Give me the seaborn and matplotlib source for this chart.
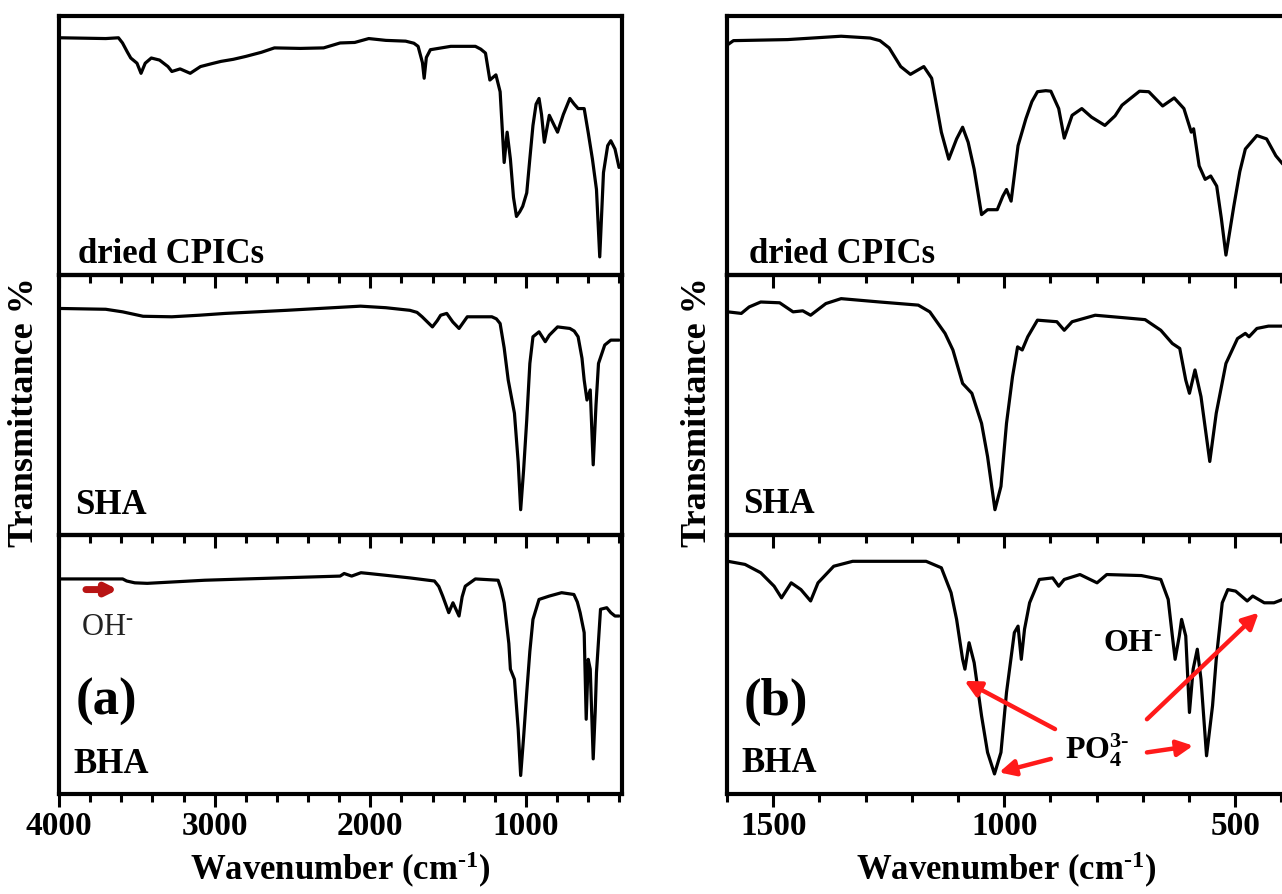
import numpy as np
import pandas as pd
import seaborn as sns
import matplotlib.pyplot as plt
from matplotlib.ticker import MultipleLocator

# ---- spectra (wavenumber, transmittance in panel units 0-100) ----
# (a) full range 4000-400
wn_a_cpic = [3992, 3700, 3618, 3592, 3560, 3539, 3499, 3473, 3446, 3407, 3354, 3300, 3275,
             3222, 3157, 3091, 3020, 2959, 2880, 2801, 2700, 2616, 2450, 2300, 2194, 2100,
             2010, 1900, 1773, 1720, 1693, 1665, 1654, 1640, 1614, 1483, 1325, 1290, 1260,
             1232, 1193, 1166, 1140, 1121, 1100, 1080, 1061, 1040, 1021, 995, 975, 955, 935,
             916, 900, 882, 850, 820, 797, 760, 718, 690, 665, 626, 600, 573, 547, 526, 502,
             475, 455, 428, 402]
t_a_cpic = [91.6, 91.3, 91.6, 89.6, 86.0, 83.8, 81.8, 77.9, 81.8, 83.8, 83.0, 80.5, 78.6,
            79.6, 77.9, 80.5, 81.6, 82.5, 83.3, 84.4, 86.0, 87.7, 87.5, 87.7, 89.6, 89.8,
            91.3, 90.6, 90.3, 89.5, 88.3, 82.0, 76.0, 84.0, 87.0, 88.3, 88.3, 87.2, 85.7,
            75.3, 77.3, 70.8, 43.5, 55.2, 44.8, 30.0, 22.7, 24.5, 26.6, 31.8, 45.0, 57.8, 66.0,
            68.2, 62.0, 51.3, 61.7, 58.0, 55.2, 62.0, 68.2, 66.0, 64.3, 64.3, 55.0, 44.8, 33.1,
            7.1, 39.6, 50.0, 51.9, 48.7, 41.6]

wn_a_sha = [3987, 3700, 3591, 3460, 3275, 3100, 2932, 2700, 2537, 2300, 2063, 1900, 1746,
            1700, 1667, 1601, 1570, 1548, 1509, 1470, 1430, 1377, 1219, 1190, 1166, 1140,
            1114, 1074, 1050, 1034, 1015, 995, 975, 955, 916, 876, 850, 797, 718, 690, 665,
            640, 626, 608, 587, 568, 550, 534, 494, 455, 402]
t_a_sha = [87.2, 86.9, 85.9, 84.2, 84.0, 84.6, 85.3, 86.0, 86.5, 87.3, 88.1, 87.5, 86.5,
           85.7, 84.0, 80.1, 82.5, 84.6, 85.3, 82.0, 79.5, 84.0, 84.0, 83.2, 81.4, 72.0,
           59.6, 46.8, 28.0, 9.6, 25.0, 44.2, 66.0, 76.3, 78.2, 74.4, 76.9, 80.1, 79.5, 78.5,
           76.3, 68.0, 59.6, 51.9, 55.8, 26.9, 50.0, 66.0, 73.1, 75.0, 75.0]

wn_a_bha = [3992, 3591, 3565, 3513, 3433, 3064, 2801, 2194, 2168, 2120, 2060, 2010, 1900,
            1746, 1588, 1560, 1535, 1496, 1469, 1430, 1410, 1390, 1325, 1179, 1160, 1140,
            1110, 1100, 1074, 1050, 1034, 1015, 995, 975, 955, 916, 850, 771, 692, 670, 652,
            626, 613, 600, 587, 568, 555, 547, 521, 481, 455, 428, 402]
t_a_bha = [82.9, 82.9, 82.1, 81.4, 81.2, 82.4, 82.9, 84.0, 85.0, 84.0, 85.3, 85.0, 84.3,
           83.3, 82.1, 80.0, 76.3, 69.9, 73.7, 68.6, 76.0, 80.1, 82.9, 82.4, 79.0, 73.7,
           58.0, 48.1, 44.2, 25.0, 7.1, 22.0, 39.1, 55.0, 67.3, 75.0, 76.3, 77.6, 76.9, 74.0,
           69.9, 62.2, 28.8, 51.9, 48.1, 13.5, 32.0, 46.8, 71.2, 71.8, 69.9, 68.6, 68.6]

# (b) zoom 1600-400
wn_b_cpic = [1598, 1586, 1469, 1353, 1290, 1269, 1249, 1224, 1203, 1174, 1157, 1136, 1120,
             1103, 1090, 1078, 1065, 1049, 1036, 1015, 1003, 995, 985, 970, 953, 940, 928,
             910, 899, 882, 870, 853, 832, 811, 782, 760, 745, 707, 687, 657, 632, 611, 595,
             590, 578, 565, 553, 540, 530, 520, 503, 490, 478, 453, 432, 412, 397]
t_b_cpic = [89.0, 90.5, 90.9, 92.2, 91.5, 90.5, 87.7, 80.5, 77.5, 80.5, 76.0, 55.2, 44.8,
            52.6, 57.1, 51.3, 40.9, 23.4, 25.3, 25.3, 30.5, 33.1, 28.6, 50.0, 60.4, 67.0, 70.8,
            71.2, 71.0, 64.3, 52.9, 61.7, 64.3, 61.0, 57.8, 61.5, 65.6, 71.0, 70.8, 65.3, 68.4,
            64.3, 55.2, 56.5, 42.2, 37.0, 38.3, 34.4, 22.0, 7.8, 26.6, 40.0, 48.7, 53.9, 52.6,
            46.1, 42.9]

wn_b_sha = [1598, 1569, 1552, 1527, 1486, 1457, 1436, 1419, 1386, 1353, 1269, 1186, 1161,
            1128, 1111, 1090, 1070, 1049, 1036, 1020, 1007, 995, 982, 971, 961, 949, 928,
            886, 870, 853, 803, 745, 695, 661, 636, 620, 607, 599, 587, 574, 555, 541, 520,
            495, 478, 470, 453, 428, 397]
t_b_sha = [85.9, 85.3, 87.8, 89.7, 89.4, 85.9, 86.3, 84.6, 89.1, 91.0, 89.7, 88.5, 85.9,
           77.6, 71.2, 58.3, 54.5, 42.9, 30.1, 9.6, 18.6, 42.9, 60.9, 72.4, 71.2, 76.3, 82.7,
           82.1, 78.8, 82.1, 84.6, 83.7, 82.9, 78.8, 73.7, 71.8, 59.6, 54.5, 63.5, 53.2, 28.2,
           46.8, 66.0, 75.6, 77.6, 76.3, 79.5, 80.4, 80.4]

wn_b_bha = [1598, 1561, 1527, 1498, 1482, 1461, 1440, 1419, 1403, 1369, 1328, 1169, 1136,
            1115, 1103, 1090, 1085, 1076, 1065, 1049, 1036, 1021, 1007, 995, 978, 970, 963,
            956, 945, 924, 895, 882, 870, 836, 799, 778, 703, 661, 645, 636, 630, 621, 616,
            607, 599, 591, 582, 574, 562, 549, 541, 528, 516, 499, 474, 462, 437, 416, 397]
t_b_bha = [89.7, 88.5, 85.3, 80.1, 75.6, 81.4, 78.8, 74.4, 81.4, 87.8, 89.7, 89.7, 87.2,
           77.6, 67.3, 51.9, 48.1, 58.3, 50.6, 30.1, 16.0, 7.7, 16.0, 39.1, 62.2, 64.7, 51.9,
           63.5, 73.7, 82.7, 83.3, 80.1, 82.7, 84.6, 81.4, 84.6, 84.2, 82.7, 75.0, 60.9, 51.9,
           60.9, 67.3, 60.9, 31.4, 48.1, 55.8, 44.2, 14.7, 34.0, 51.9, 73.7, 78.8, 78.2, 74.4,
           76.3, 73.7, 73.7, 75.0]

sample_names = ['dried CPICs', 'SHA', 'BHA']

# red PO4 arrows in panel (b): (tail_wn, tail_t, head_wn, head_t)
po4_arrows = [(890, 25.0, 1086, 43.6),
              (899, 13.5, 1011, 8.3),
              (691, 16.0, 591, 18.6),
              (691, 28.8, 449, 69.9)]

sns.set_theme(style='ticks')
plt.rcParams['font.family'] = ['Liberation Serif', 'DejaVu Serif']
plt.rcParams['font.weight'] = 'bold'
plt.rcParams['axes.labelweight'] = 'bold'
plt.rcParams['text.color'] = 'black'
plt.rcParams['axes.labelcolor'] = 'black'
plt.rcParams['xtick.color'] = 'black'
plt.rcParams['mathtext.fontset'] = 'custom'
plt.rcParams['mathtext.rm'] = 'Liberation Serif'
plt.rcParams['mathtext.bf'] = 'Liberation Serif:bold'
plt.rcParams['mathtext.it'] = 'Liberation Serif'

W, H = 1282, 895
fig = plt.figure(figsize=(W / 100, H / 100), dpi=100)

panel_h = 259.3


def make_panel(left_px, width_px, xlim, major, minor):
    axes = []
    for i in range(3):
        top = 17 + i * panel_h
        ax = fig.add_axes([left_px / W, 1 - (top + panel_h) / H, width_px / W, panel_h / H])
        ax.set_facecolor('none')
        ax.set_xlim(*xlim)
        ax.set_ylim(0, 100)
        ax.set_yticks([])
        ax.xaxis.set_major_locator(MultipleLocator(major))
        ax.xaxis.set_minor_locator(MultipleLocator(minor))
        ax.tick_params(axis='x', which='both', direction='out', top=False, bottom=True,
                       width=2.2, labelsize=24, pad=2, labelbottom=(i == 2),
                       colors='black')
        ax.tick_params(axis='x', which='major', length=9.5)
        ax.tick_params(axis='x', which='minor', length=5.5)
        for s in ax.spines.values():
            s.set_linewidth(3)
            s.set_color('black')
        axes.append(ax)
    axes[2].set_xlabel('Wavenumber (cm$^{\\mathbf{\u20101}}$)', fontsize=25, labelpad=6)
    return axes


left_axes = make_panel(59, 563, (4000, 383), 1000, 200)
right_axes = make_panel(727, 559, (1600, 390), 500, 100)

spectra_a = [(wn_a_cpic, t_a_cpic), (wn_a_sha, t_a_sha), (wn_a_bha, t_a_bha)]
spectra_b = [(wn_b_cpic, t_b_cpic), (wn_b_sha, t_b_sha), (wn_b_bha, t_b_bha)]

for axes, spectra in [(left_axes, spectra_a), (right_axes, spectra_b)]:
    for ax, (wn, t) in zip(axes, spectra):
        sns.lineplot(x=wn, y=t, ax=ax, color='black', linewidth=2.3,
                     sort=False, estimator=None)
        ax.set_ylabel('')

# sample names
left_pos = [(0.033, 0.05), (0.029, 0.085), (0.025, 0.085)]
right_pos = [(0.039, 0.05), (0.029, 0.088), (0.025, 0.088)]
for axes, pos in [(left_axes, left_pos), (right_axes, right_pos)]:
    for ax, name, (x, y) in zip(axes, sample_names, pos):
        ax.text(x, y, name, transform=ax.transAxes, fontsize=25, fontweight='bold',
                ha='left', va='baseline')

left_axes[2].text(0.029, 0.31, '(a)', transform=left_axes[2].transAxes, fontsize=38,
                  fontweight='bold', ha='left', va='baseline')
right_axes[2].text(0.029, 0.31, '(b)', transform=right_axes[2].transAxes, fontsize=38,
                   fontweight='bold', ha='left', va='baseline')

# OH- arrow in (a)
ax = left_axes[2]
ax.annotate('', xy=(3621, 78.8), xytext=(3827, 78.8),
            arrowprops=dict(arrowstyle='-|>', color='#b81414', lw=5, mutation_scale=16,
                            shrinkA=0, shrinkB=0))
ax.text(3859, 61.5, 'OH$^{\\mathrm{\u2010}}$', fontsize=22, fontweight='normal', ha='left',
        va='baseline', color='#222222')

# annotations in (b)
ax = right_axes[2]
ax.text(786, 55.4, 'OH$^{\\mathbf{\u2010}}$', fontsize=23, fontweight='bold', ha='left',
        va='baseline')
ax.text(868, 13.5, 'PO$_{\\mathbf{4}}^{\\mathbf{3\u2010}}$', fontsize=23, fontweight='bold',
        ha='left', va='baseline')
for x0, y0, x1, y1 in po4_arrows:
    ax.annotate('', xy=(x1, y1), xytext=(x0, y0),
                arrowprops=dict(arrowstyle='-|>', color='#ff1a1a', lw=3.2,
                                mutation_scale=24, shrinkA=0, shrinkB=0))

# shared y labels
fig.text(25 / W, 1 - 412 / H, 'Transmittance %', rotation=90, fontsize=26,
         fontweight='bold', ha='center', va='center')
fig.text(697 / W, 1 - 412 / H, 'Transmittance %', rotation=90, fontsize=26,
         fontweight='bold', ha='center', va='center')

fig.savefig('out.png', dpi=100, facecolor='white')
